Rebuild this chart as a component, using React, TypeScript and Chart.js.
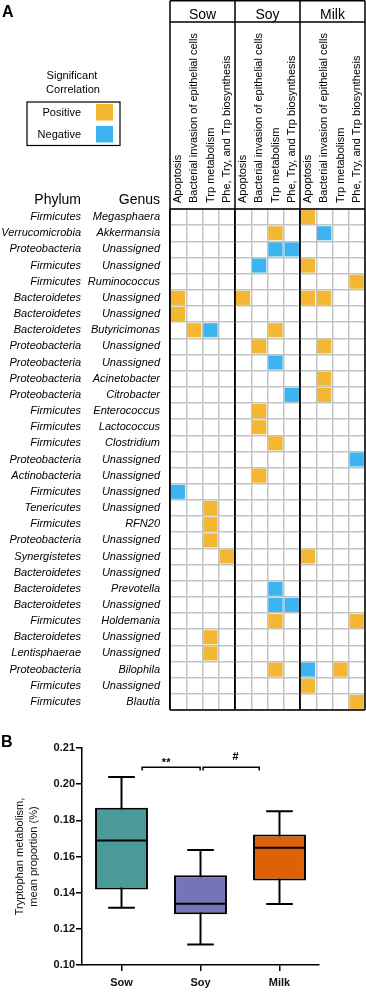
import React, { useEffect, useRef } from "react";
import { Chart, registerables } from "chart.js";

Chart.register(...registerables);

const FONT = "'Liberation Sans', Arial, Helvetica, sans-serif";
Chart.defaults.font.family = FONT;
Chart.defaults.color = "#111";

// ---------- Panel A data ----------
const groups = ["Sow", "Soy", "Milk"];
const pathways = [
  "Apoptosis",
  "Bacterial invasion of epithelial cells",
  "Trp metabolism",
  "Phe, Try, and Trp biosynthesis",
];
const columns = groups.flatMap(() => pathways);

const phyla = [
  "Firmicutes", "Verrucomicrobia", "Proteobacteria", "Firmicutes", "Firmicutes",
  "Bacteroidetes", "Bacteroidetes", "Bacteroidetes", "Proteobacteria", "Proteobacteria",
  "Proteobacteria", "Proteobacteria", "Firmicutes", "Firmicutes", "Firmicutes",
  "Proteobacteria", "Actinobacteria", "Firmicutes", "Tenericutes", "Firmicutes",
  "Proteobacteria", "Synergistetes", "Bacteroidetes", "Bacteroidetes", "Bacteroidetes",
  "Firmicutes", "Bacteroidetes", "Lentisphaerae", "Proteobacteria", "Firmicutes",
  "Firmicutes",
];
const genera = [
  "Megasphaera", "Akkermansia", "Unassigned", "Unassigned", "Ruminococcus",
  "Unassigned", "Unassigned", "Butyricimonas", "Unassigned", "Unassigned",
  "Acinetobacter", "Citrobacter", "Enterococcus", "Lactococcus", "Clostridium",
  "Unassigned", "Unassigned", "Unassigned", "Unassigned", "RFN20",
  "Unassigned", "Unassigned", "Unassigned", "Prevotella", "Unassigned",
  "Holdemania", "Unassigned", "Unassigned", "Bilophila", "Unassigned",
  "Blautia",
];

// [row, column]
const positiveCells: [number, number][] = [
  [0, 8], [1, 6], [3, 8], [4, 11], [5, 0], [5, 4], [5, 8], [5, 9], [6, 0],
  [7, 1], [7, 6], [8, 5], [8, 9], [10, 9], [11, 9], [12, 5], [13, 5], [14, 6],
  [16, 5], [18, 2], [19, 2], [20, 2], [21, 3], [21, 8], [25, 6], [25, 11],
  [26, 2], [27, 2], [28, 6], [28, 10], [29, 8], [30, 11],
];
const negativeCells: [number, number][] = [
  [1, 9], [2, 6], [2, 7], [3, 5], [7, 2], [9, 6], [11, 7], [15, 11], [17, 0],
  [23, 6], [24, 6], [24, 7], [28, 8],
];

// ---------- Panel B data ----------
const boxCategories = ["Sow", "Soy", "Milk"];
const whiskerMin = [0.1317, 0.1114, 0.1337];
const q1 = [0.1417, 0.1281, 0.1467];
const medians = [0.1689, 0.1339, 0.1648];
const q3 = [0.187, 0.1496, 0.1721];
const whiskerMax = [0.204, 0.1636, 0.185];
const boxColors = ["#4A9A97", "#7674B9", "#DE6108"];
const yTickValues = [0.1, 0.12, 0.14, 0.16, 0.18, 0.2, 0.22];
const yTickLabels = ["0.10", "0.12", "0.14", "0.16", "0.18", "0.20", "0.21"];
const comparisons = [
  { from: 0.015, to: 0.994, y: 0.2094, label: "**", labelX: 0.42, lift: 1 },
  { from: 1.044, to: 1.99, y: 0.2094, label: "#", labelX: 1.59, lift: 7 },
];
const bracketDrop = 0.0018;

const toBars = (cells: [number, number][]) =>
  cells.map(([r, c]) => ({ y: r + 0.5, x: [c + 0.05, c + 0.93] }));

const noPad = (s: any) => {
  s.paddingTop = 0;
  s.paddingBottom = 0;
  s.paddingLeft = 0;
  s.paddingRight = 0;
};

const heatDecor = {
  id: "heatDecor",
  afterDraw(chart: any) {
    const { ctx, chartArea: ca, scales } = chart;
    const xs = scales.x, gs = scales.groups, ph = scales.phylum, ge = scales.genus;
    ctx.save();
    ctx.strokeStyle = "#000";
    ctx.lineWidth = 1.5;
    ctx.beginPath();
    const top = gs.top + 0.75;
    for (let v = 0; v <= columns.length; v += pathways.length) {
      const px = xs.getPixelForValue(v);
      ctx.moveTo(px, top);
      ctx.lineTo(px, ca.bottom);
    }
    for (const yy of [top, gs.bottom, ca.top, ca.bottom]) {
      ctx.moveTo(ca.left, yy);
      ctx.lineTo(ca.right, yy);
    }
    ctx.stroke();

    ctx.fillStyle = "#000";
    ctx.font = `bold 16px ${FONT}`;
    ctx.textAlign = "left";
    ctx.textBaseline = "alphabetic";
    ctx.fillText("A", 2, 17);

    ctx.font = `14px ${FONT}`;
    ctx.textAlign = "right";
    ctx.fillText("Phylum", ph.right - 2, ca.top - 5.5);
    ctx.fillText("Genus", ge.right - 10, ca.top - 5.5);

    ctx.font = `11px ${FONT}`;
    ctx.textAlign = "center";
    ctx.textBaseline = "middle";
    ctx.fillText("Significant", 72, 76);
    ctx.fillText("Correlation", 73, 90);
    ctx.lineWidth = 1.2;
    ctx.strokeRect(27, 102, 93, 43.5);
    ctx.textAlign = "right";
    chart.data.datasets.forEach((ds: any, i: number) => {
      const yy = 112.5 + i * 22;
      ctx.fillStyle = "#000";
      ctx.fillText(ds.label, 81, yy);
      ctx.fillStyle = ds.backgroundColor;
      ctx.fillRect(96, yy - 8.5, 17, 16.5);
    });
    ctx.restore();
  },
};

const boxDecor = {
  id: "boxDecor",
  afterDraw(chart: any) {
    const { ctx, scales } = chart;
    ctx.save();
    ctx.fillStyle = "#000";
    ctx.font = `bold 16px ${FONT}`;
    ctx.textAlign = "left";
    ctx.textBaseline = "alphabetic";
    ctx.fillText("B", 1, 31.5);
    ctx.font = `bold 11px ${FONT}`;
    ctx.textAlign = "center";
    comparisons.forEach((c) => {
      ctx.fillText(c.label, scales.xb.getPixelForValue(c.labelX), scales.y.getPixelForValue(c.y) - c.lift);
    });
    ctx.restore();
  },
};

export default function App() {
  const heatRef = useRef<HTMLCanvasElement>(null);
  const boxRef = useRef<HTMLCanvasElement>(null);

  useEffect(() => {
    document.body.style.margin = "0";
    const italic = { family: FONT, size: 11, style: "italic" as const };

    const heat = new Chart(heatRef.current!, {
      type: "bar",
      data: {
        datasets: [
          {
            label: "Positive",
            data: toBars(positiveCells) as any,
            backgroundColor: "#F4B731",
            grouped: false,
            barPercentage: 0.87,
            categoryPercentage: 1,
          },
          {
            label: "Negative",
            data: toBars(negativeCells) as any,
            backgroundColor: "#3BB4F0",
            grouped: false,
            barPercentage: 0.87,
            categoryPercentage: 1,
          },
        ],
      },
      options: {
        indexAxis: "y",
        animation: false,
        responsive: false,
        events: [],
        layout: { padding: { left: 0, right: 1, top: 0, bottom: 5 } },
        plugins: { legend: { display: false }, tooltip: { enabled: false } },
        scales: {
          x: { type: "linear", min: 0, max: columns.length, offset: false, display: false },
          y: { type: "linear", min: 0, max: genera.length, offset: false, reverse: true, display: false },
          cols: {
            axis: "x",
            type: "category",
            labels: columns,
            position: "top",
            offset: true,
            weight: 0,
            grid: {
              offset: true,
              drawTicks: false,
              lineWidth: 1.5,
              color: (ctx: any) => (ctx.index % pathways.length === 0 ? "#000" : "#c3c3c3"),
            },
            border: { display: false },
            ticks: {
              autoSkip: false,
              minRotation: 90,
              maxRotation: 90,
              padding: 6,
              labelOffset: 13.2,
              font: { family: FONT, size: 11 },
              color: "#000",
            },
            afterFit: (s: any) => { s.height = 187; noPad(s); },
          } as any,
          groups: {
            axis: "x",
            type: "category",
            labels: groups,
            position: "top",
            offset: true,
            weight: 1,
            grid: { display: false, drawTicks: false },
            border: { display: false },
            ticks: { padding: 1, font: { family: FONT, size: 14, lineHeight: 0.77 }, color: "#000" },
            afterFit: (s: any) => { s.height = 22; noPad(s); },
          } as any,
          genus: {
            axis: "y",
            type: "category",
            labels: genera,
            position: "left",
            offset: true,
            bounds: "ticks",
            weight: 0,
            grid: { offset: true, drawTicks: false, lineWidth: 1.5, color: "#c3c3c3" },
            border: { display: false },
            ticks: { autoSkip: false, padding: 10, font: italic, color: "#000" },
            afterFit: (s: any) => { s.width = 87; noPad(s); },
          } as any,
          phylum: {
            axis: "y",
            type: "category",
            labels: phyla,
            position: "left",
            offset: true,
            bounds: "ticks",
            weight: 1,
            grid: { display: false, drawTicks: false },
            border: { display: false },
            ticks: { autoSkip: false, padding: 2, font: italic, color: "#000" },
            afterFit: (s: any) => { s.width = 83; noPad(s); },
          } as any,
        },
      },
      plugins: [heatDecor],
    });

    const capStyle = {
      type: "line" as const,
      showLine: false,
      pointStyle: "line" as const,
      pointBorderColor: "#000",
      pointBackgroundColor: "#000",
      pointBorderWidth: 2,
      order: 0,
    };

    const box = new Chart(boxRef.current!, {
      type: "bar",
      data: {
        labels: boxCategories,
        datasets: [
          { ...capStyle, label: "max", data: whiskerMax, pointRadius: 13.3 },
          { ...capStyle, label: "min", data: whiskerMin, pointRadius: 13.3 },
          { ...capStyle, label: "median", data: medians, pointRadius: 26 },
          ...comparisons.map((c) => ({
            type: "line" as const,
            label: c.label,
            xAxisID: "xb",
            data: [
              { x: c.from, y: c.y - bracketDrop },
              { x: c.from, y: c.y },
              { x: c.to, y: c.y },
              { x: c.to, y: c.y - bracketDrop },
            ],
            borderColor: "#000",
            borderWidth: 1.5,
            pointRadius: 0,
            fill: false,
            clip: false as any,
            order: 0,
          })),
          {
            type: "bar" as const,
            label: "IQR",
            data: q1.map((v, i) => [v, q3[i]]),
            backgroundColor: boxColors,
            borderColor: "#000",
            borderWidth: 2,
            borderSkipped: false,
            grouped: false,
            barPercentage: 0.67,
            categoryPercentage: 1,
            order: 1,
          },
          {
            type: "bar" as const,
            label: "whisker",
            data: whiskerMin.map((v, i) => [v, whiskerMax[i]]),
            backgroundColor: "#000",
            grouped: false,
            barPercentage: 0.025,
            categoryPercentage: 1,
            order: 2,
          },
        ] as any,
      },
      options: {
        animation: false,
        responsive: false,
        events: [],
        layout: { padding: { left: 0, right: 47, top: 33, bottom: 0 } },
        plugins: { legend: { display: false }, tooltip: { enabled: false } },
        scales: {
          x: {
            type: "category",
            offset: true,
            grid: { offset: false, drawOnChartArea: false, tickLength: 6, color: "#000", lineWidth: 1.5 },
            border: { color: "#000", width: 1.5 },
            ticks: { padding: 5, font: { family: FONT, size: 11, weight: "bold" }, color: "#111" },
            afterFit: (s: any) => { s.height = 24; },
          } as any,
          xb: { type: "linear", min: -0.5, max: 2.5, display: false },
          y: {
            type: "linear",
            min: yTickValues[0],
            max: yTickValues[yTickValues.length - 1],
            afterBuildTicks: (s: any) => { s.ticks = yTickValues.map((v) => ({ value: v })); },
            grid: { drawOnChartArea: false, tickLength: 6, color: "#000", lineWidth: 1.5 },
            border: { color: "#000", width: 1.5 },
            ticks: {
              padding: 1,
              font: { family: FONT, size: 11, weight: "bold" },
              color: "#111",
              callback: (_v: any, i: number) => yTickLabels[i],
            },
            title: {
              display: true,
              text: ["Tryptophan metabolism,", "mean proportion (%)"],
              font: { family: FONT, size: 11, lineHeight: 1.25 },
              color: "#111",
              padding: { top: 13, bottom: 0 },
            },
            afterFit: (s: any) => { s.width = 82; },
          } as any,
        },
      },
      plugins: [boxDecor],
    });

    return () => {
      heat.destroy();
      box.destroy();
    };
  }, []);

  return (
    <div style={{ width: 366 }}>
      <canvas ref={heatRef} width={366} height={715} style={{ display: "block" }} />
      <canvas ref={boxRef} width={366} height={278} style={{ display: "block" }} />
    </div>
  );
}
